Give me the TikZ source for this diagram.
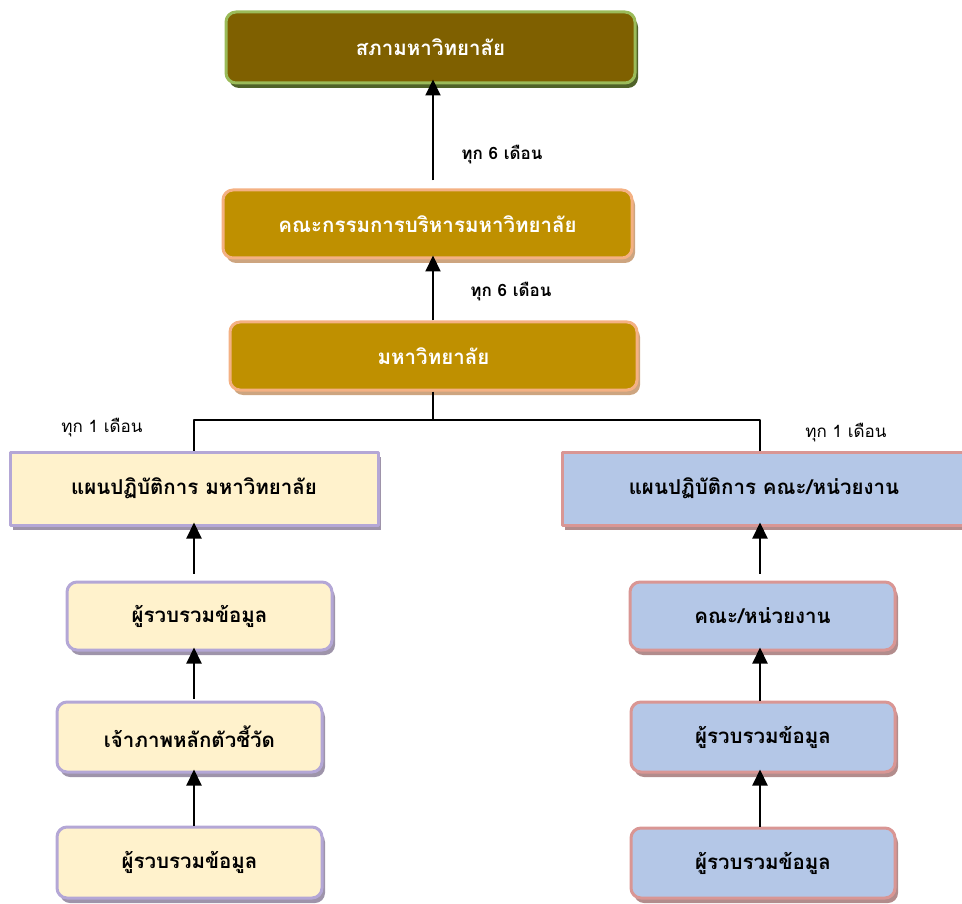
\documentclass[tikz,border=0pt]{standalone}
\usepackage{fontspec}
\newfontfamily\thaifont[Script=Thai]{Loma}
\usetikzlibrary{arrows.meta,shadows}

\definecolor{olivefill}{RGB}{127,96,0}
\definecolor{olivedraw}{RGB}{155,187,89}
\definecolor{oliveshade}{RGB}{79,98,40}
\definecolor{goldfill}{RGB}{191,144,0}
\definecolor{golddraw}{RGB}{244,177,131}
\definecolor{goldshade}{RGB}{205,165,128}
\definecolor{creamfill}{RGB}{255,242,204}
\definecolor{creamdraw}{RGB}{180,167,214}
\definecolor{creamshade}{RGB}{158,148,170}
\definecolor{bluefill}{RGB}{180,199,231}
\definecolor{bluedraw}{RGB}{217,150,148}
\definecolor{blueshade}{RGB}{178,140,140}

\begin{document}
\begin{tikzpicture}[x=1pt, y=-1pt, line join=round,
    box/.style={draw, line width=3pt, inner sep=0pt,
        font=\thaifont\bfseries\fontsize{20.5}{24}\selectfont},
    topbox/.style={box, rounded corners=10pt, fill=olivefill, draw=olivedraw, text=white,
        drop shadow={shadow xshift=3pt, shadow yshift=-5pt, fill=oliveshade, opacity=1}},
    goldbox/.style={box, rounded corners=10pt, fill=goldfill, draw=golddraw, text=white,
        drop shadow={shadow xshift=3pt, shadow yshift=-5pt, fill=goldshade, opacity=1}},
    creambox/.style={box, fill=creamfill, draw=creamdraw,
        drop shadow={shadow xshift=3pt, shadow yshift=-5pt, fill=creamshade, opacity=1}},
    bluebox/.style={box, fill=bluefill, draw=bluedraw,
        drop shadow={shadow xshift=3pt, shadow yshift=-5pt, fill=blueshade, opacity=1}},
    arr/.style={-{Triangle[length=16pt,width=15pt]}, line width=2pt}]
    \useasboundingbox (0,0) rectangle (962,904);

    \coordinate (cx) at (433,0);
    \coordinate (lx) at (194,0);
    \coordinate (rx) at (760,0);
    \coordinate (bus) at (433,420);

    \node[topbox, minimum width=409, minimum height=71] (council) at (430.5,47.5) {สภามหาวิทยาลัย};
    \node[goldbox, minimum width=409, minimum height=68] (board) at (427.5,224) {คณะกรรมการบริหารมหาวิทยาลัย};
    \node[goldbox, minimum width=407, minimum height=68] (uni) at (433.5,356) {มหาวิทยาลัย};

    \node[creambox, minimum width=368, minimum height=73] (l1) at (194,488.5) {แผนปฏิบัติการ มหาวิทยาลัย};
    \node[creambox, rounded corners=10pt, minimum width=265, minimum height=68] (l2) at (199.5,616) {ผู้รวบรวมข้อมูล};
    \node[creambox, rounded corners=10pt, minimum width=265, minimum height=70] (l3) at (189.5,737) {เจ้าภาพหลักตัวชี้วัด};
    \node[creambox, rounded corners=10pt, minimum width=265, minimum height=71] (l4) at (189.5,862.5) {ผู้รวบรวมข้อมูล};

    \node[bluebox, minimum width=404, minimum height=73] (r1) at (764,488.5) {แผนปฏิบัติการ คณะ/หน่วยงาน};
    \node[bluebox, rounded corners=10pt, minimum width=265, minimum height=68] (r2) at (762.5,616) {คณะ/หน่วยงาน};
    \node[bluebox, rounded corners=10pt, minimum width=264, minimum height=70] (r3) at (763,737) {ผู้รวบรวมข้อมูล};
    \node[bluebox, rounded corners=10pt, minimum width=264, minimum height=70] (r4) at (763,863) {ผู้รวบรวมข้อมูล};

    \node[font=\thaifont\bfseries\fontsize{17}{20}\selectfont] (m6a) at (502,155) {ทุก 6 เดือน};
    \node[font=\thaifont\bfseries\fontsize{17}{20}\selectfont] (m6b) at (511,292) {ทุก 6 เดือน};
    \node[font=\thaifont\fontsize{17}{20}\selectfont] (m1a) at (102,428) {ทุก 1 เดือน};
    \node[font=\thaifont\fontsize{17}{20}\selectfont] (m1b) at (846,433) {ทุก 1 เดือน};

    \draw[arr, shorten <=8pt, shorten >=-5pt] (board.north -| cx) -- (council.south -| cx);
    \draw[arr, shorten >=-4pt] (uni.north -| cx) -- (board.south -| cx);
    \foreach \a/\b/\c/\s in {l1/l2/lx/7, l2/l3/lx/2, l3/l4/lx/0, r1/r2/rx/7, r2/r3/rx/0, r3/r4/rx/0}
        \draw[arr, shorten <=\s pt, shorten >=-4pt] (\b.north -| \c) -- (\a.south -| \c);

    \draw[line width=2pt] (uni.south -| cx) -- (bus);
    \draw[line width=2pt] (l1.north -| lx) |- (bus) -| (r1.north -| rx);
\end{tikzpicture}
\end{document}
